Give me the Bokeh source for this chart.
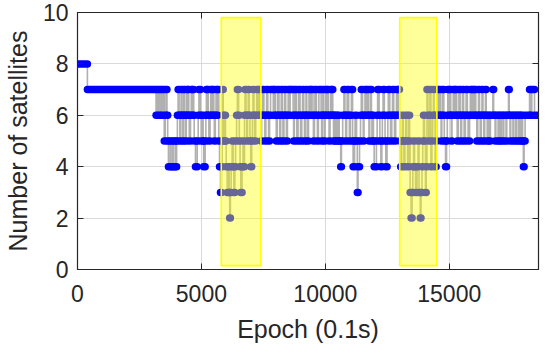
import numpy as np
from bokeh.plotting import figure
from bokeh.models import Range1d, LinearAxis, FixedTicker
from bokeh.embed import file_html
from bokeh.resources import INLINE

N_EPOCHS = 18600
x_ticks = [0, 5000, 10000, 15000]
y_ticks = [0, 2, 4, 6, 8, 10]

# highlighted epoch windows
highlight_start = [5800, 13000]
highlight_end = [7400, 14500]
highlight_bottom = [0.15, 0.15]
highlight_top = [9.8, 9.8]

# Number of visible satellites, run-length coded: (first epoch of run, satellites)
runs_a = [(0, 8), (400, 7)]
runs_b = [(3170, 6), (3230, 7), (3290, 6), (3340, 7), (3400, 6), (3450, 7), (3500, 5), (3540, 6),
          (3570, 7), (3610, 6), (3640, 5), (3670, 4), (3740, 5), (3770, 4), (3840, 5), (3860, 4),
          (3940, 5), (3960, 4), (4000, 5), (4030, 6), (4060, 7), (4100, 6), (4130, 5), (4160, 6),
          (4180, 7), (4220, 6), (4240, 5), (4270, 6), (4290, 7), (4330, 6), (4350, 5), (4390, 6),
          (4410, 7), (4440, 6), (4460, 7), (4490, 6), (4510, 5), (4560, 6), (4590, 7), (4620, 6),
          (4650, 7), (4690, 6), (4710, 5), (4760, 4), (4830, 5), (4870, 6), (4900, 7), (4960, 6),
          (4990, 5), (5040, 6), (5070, 5), (5090, 4), (5150, 5), (5180, 6), (5200, 7), (5210, 6),
          (5240, 7), (5280, 6), (5300, 5), (5350, 6), (5380, 7), (5420, 6), (5450, 7), (5500, 6),
          (5520, 5), (5560, 6), (5590, 7), (5630, 6), (5660, 7)]
runs_c = [(5700, 5), (5730, 4), (5770, 3), (5810, 4), (5840, 5), (5860, 7), (5880, 6), (5910, 5),
          (5940, 6), (5970, 5), (6000, 4), (6040, 3), (6090, 4), (6120, 3), (6140, 2), (6170, 3),
          (6200, 4), (6240, 5), (6280, 4), (6310, 3), (6350, 4), (6380, 5), (6420, 6), (6450, 7),
          (6500, 6), (6530, 5), (6560, 4), (6590, 3), (6640, 4), (6680, 5), (6710, 4), (6740, 6),
          (6760, 7), (6800, 6), (6830, 5), (6860, 6), (6890, 7), (6930, 6), (6960, 5), (6990, 4),
          (7030, 5), (7060, 6), (7080, 7), (7120, 6), (7150, 5), (7190, 6), (7230, 7), (7280, 6),
          (7320, 7), (7360, 6)]
runs_d = [(7400, 5), (7430, 6), (7470, 7), (7520, 6), (7560, 5), (7600, 6), (7630, 7), (7680, 6),
          (7710, 5), (7750, 6), (7790, 7), (7900, 6), (7930, 7), (7990, 6), (8020, 5), (8060, 6),
          (8080, 7), (8130, 6), (8160, 5), (8200, 6), (8220, 7), (8270, 6), (8290, 5), (8330, 6),
          (8360, 7), (8400, 6), (8430, 5), (8470, 6), (8500, 7), (8550, 6), (8580, 7), (8700, 6),
          (8720, 5), (8750, 6), (8770, 7), (8830, 6), (8850, 5), (8900, 6), (8920, 7), (8980, 6),
          (9000, 5), (9050, 6), (9080, 7), (9130, 6), (9160, 5), (9200, 6), (9220, 7)]
runs_e = [(9250, 6), (9280, 5), (9320, 6), (9340, 7), (9400, 6), (9430, 7), (9500, 6), (9520, 5),
          (9560, 6), (9580, 7), (9640, 6), (9680, 5), (9720, 6), (9740, 7), (9830, 6), (9850, 5),
          (9880, 6), (9900, 7), (9930, 6), (9960, 5), (9990, 6), (10010, 7), (10060, 6), (10090, 7),
          (10120, 6), (10150, 5), (10190, 6), (10210, 7), (10250, 6), (10280, 7), (10300, 6),
          (10330, 5), (10360, 6), (10400, 5), (10430, 6), (10480, 5), (10530, 6), (10560, 5),
          (10620, 4), (10650, 5), (10700, 6), (10750, 7), (10790, 6), (10820, 5), (10860, 6),
          (10880, 7), (10940, 6), (10970, 5), (11010, 6), (11050, 7), (11100, 5), (11120, 4),
          (11180, 5), (11200, 6), (11260, 5), (11290, 3), (11320, 4), (11380, 5), (11420, 6),
          (11450, 7), (11500, 6), (11530, 5), (11560, 6), (11600, 7), (11650, 6), (11700, 7),
          (11740, 6), (11760, 5), (11790, 6), (11820, 7), (11860, 6), (11880, 5), (11910, 6),
          (11940, 5), (11970, 4), (12060, 5), (12090, 6), (12110, 7), (12170, 6), (12200, 5),
          (12240, 4), (12280, 5), (12300, 6), (12330, 7), (12380, 6), (12410, 5), (12440, 4),
          (12490, 5), (12520, 6), (12540, 7), (12600, 6), (12630, 5), (12680, 6), (12710, 7),
          (12760, 6), (12790, 5), (12840, 6), (12870, 7)]
runs_f = [(12930, 6), (12950, 7), (12990, 6), (13010, 5), (13040, 4), (13080, 5), (13110, 6),
          (13140, 5), (13170, 4), (13210, 5), (13240, 6), (13280, 5), (13320, 4), (13360, 6),
          (13400, 5), (13420, 3), (13460, 2), (13500, 3), (13530, 4), (13560, 5), (13600, 4),
          (13640, 3), (13700, 4), (13740, 5), (13780, 3), (13830, 2), (13860, 3), (13900, 4),
          (13930, 5), (13960, 6), (14000, 5), (14040, 3), (14070, 4), (14100, 7), (14140, 6),
          (14170, 5), (14200, 6), (14220, 7), (14260, 4), (14300, 5), (14330, 6), (14360, 7),
          (14390, 6), (14430, 4), (14470, 5), (14500, 6)]
runs_g = [(14510, 7), (14560, 6), (14590, 7), (14640, 6), (14670, 5), (14700, 6), (14720, 7),
          (14780, 6), (14800, 5), (14850, 4), (14890, 5), (14920, 6), (14940, 7), (15000, 6),
          (15030, 7), (15060, 6), (15080, 5), (15110, 6), (15160, 7), (15220, 6), (15250, 7),
          (15300, 6), (15320, 5), (15360, 6), (15390, 7), (15440, 6), (15460, 5), (15500, 6),
          (15530, 7), (15580, 6), (15600, 5), (15650, 6), (15680, 7), (15730, 6), (15760, 5),
          (15820, 6), (15850, 7), (15900, 6), (15940, 7), (15990, 6), (16030, 7), (16070, 6),
          (16110, 5), (16150, 6), (16180, 7), (16220, 6), (16250, 5), (16290, 6), (16320, 7),
          (16360, 6), (16390, 5), (16430, 6), (16460, 7), (16490, 6), (16530, 5), (16580, 6),
          (16620, 5), (16660, 6), (16760, 7), (16790, 6), (16850, 5), (16880, 6), (16970, 5),
          (17010, 6), (17060, 5), (17100, 6), (17170, 5), (17200, 6), (17290, 5), (17320, 6),
          (17390, 7), (17420, 6), (17450, 5), (17480, 6), (17570, 5), (17600, 6), (17680, 5),
          (17710, 6), (17790, 5), (17820, 6), (17880, 5), (17910, 6), (17960, 5), (17990, 4),
          (18020, 5), (18060, 6), (18240, 7), (18270, 6), (18330, 7), (18440, 6)]

runs = runs_a + runs_b + runs_c + runs_d + runs_e + runs_f + runs_g
runs.sort(key=lambda r: r[0])
starts = np.array([r[0] for r in runs], dtype=float)
vals = np.array([r[1] for r in runs], dtype=float)
ends = np.append(starts[1:] - 1, N_EPOCHS - 1)

# connecting line through every epoch (flat along runs, vertical at changes)
line_x = np.column_stack([starts, ends]).ravel()
line_y = np.repeat(vals, 2)

DARK = "#262626"
FONT = "Liberation Sans"

p = figure(width=542, height=360, x_range=Range1d(0, N_EPOCHS), y_range=Range1d(0, 10),
           output_backend="svg", toolbar_location=None,
           min_border_left=69, min_border_right=4, min_border_top=20, min_border_bottom=83)
# cancel the page's top/bottom margin so the tall canvas fits the window
p.styles = {"margin-top": "-8px", "margin-bottom": "-8px"}
p.background_fill_color = "white"
p.border_fill_color = "white"
p.outline_line_color = DARK
p.outline_line_width = 1.2

p.grid.grid_line_color = "#dadada"
p.grid.grid_line_width = 1

p.line(line_x, line_y, line_color="#b0b0b0", line_width=1.6)
p.segment(x0=starts, y0=vals, x1=ends, y1=vals, line_color="#0000ff", line_width=7.5,
          line_cap="round")
p.quad(left=highlight_start, right=highlight_end, bottom=highlight_bottom, top=highlight_top,
       fill_color="#ffff00", fill_alpha=0.4, line_color="#ffff00", line_width=1.6)

p.xaxis.ticker = FixedTicker(ticks=x_ticks)
p.yaxis.ticker = FixedTicker(ticks=y_ticks)
p.xgrid.ticker = FixedTicker(ticks=x_ticks)
p.ygrid.ticker = FixedTicker(ticks=y_ticks)
p.xaxis.axis_label = "Epoch (0.1s)"
p.yaxis.axis_label = "Number of satellites"

for ax in (p.xaxis[0], p.yaxis[0]):
    ax.major_tick_in = 6
    ax.major_tick_out = 0
    ax.minor_tick_line_color = None
    ax.axis_line_color = DARK
    ax.major_tick_line_color = DARK
    ax.major_label_text_font = FONT
    ax.major_label_text_font_size = "23px"
    ax.major_label_text_color = DARK
    ax.axis_label_text_font = FONT
    ax.axis_label_text_font_size = "25px"
    ax.axis_label_text_font_style = "normal"
    ax.axis_label_text_color = DARK
p.xaxis.major_label_standoff = 15
p.xaxis.axis_label_standoff = 10
p.yaxis.major_label_standoff = 9
p.yaxis.axis_label_standoff = 8

for loc, ticks in (("right", y_ticks), ("above", x_ticks)):
    ax = LinearAxis(ticker=FixedTicker(ticks=ticks), major_tick_in=6, major_tick_out=0,
                    minor_tick_line_color=None, axis_line_color=DARK,
                    major_tick_line_color=DARK, major_label_text_font_size="0px",
                    major_label_text_color=None, major_label_standoff=0)
    p.add_layout(ax, loc)

open("out.html", "w").write(file_html(p, INLINE))
